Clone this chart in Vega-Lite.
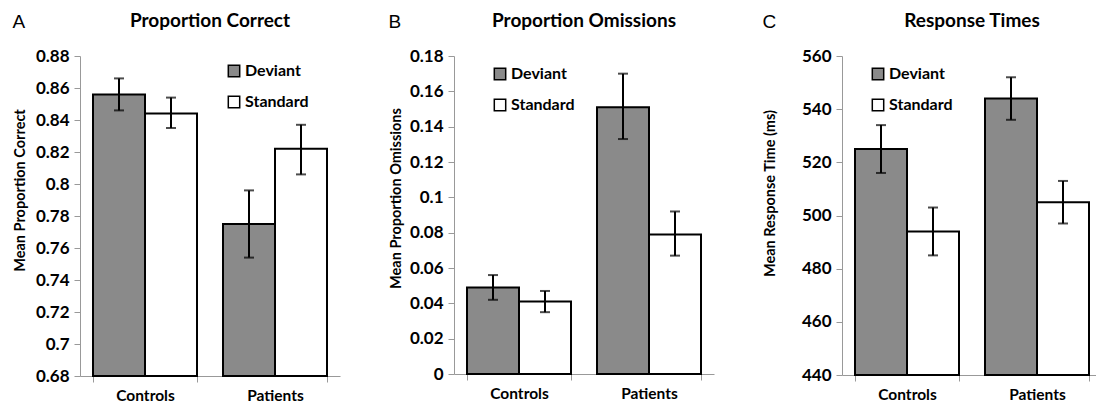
{
  "$schema": "https://vega.github.io/schema/vega-lite/v6.json",
  "background": "white",
  "padding": {"left": 12, "top": 12, "right": 0, "bottom": 0},
  "config": {
    "font": "Lato",
    "view": {"stroke": null},
    "concat": {"spacing": 48},
    "axis": {"grid": false, "labelColor": "black", "titleColor": "black", "labelFontWeight": "bold", "titleFontWeight": "bold", "labelOverlap": false}
  },
  "datasets": {
    "d": [
      {"panel": "A", "group": "Controls", "condition": "Deviant", "mean": 0.856, "lo": 0.846, "hi": 0.866},
      {"panel": "A", "group": "Controls", "condition": "Standard", "mean": 0.844, "lo": 0.835, "hi": 0.854},
      {"panel": "A", "group": "Patients", "condition": "Deviant", "mean": 0.775, "lo": 0.754, "hi": 0.796},
      {"panel": "A", "group": "Patients", "condition": "Standard", "mean": 0.822, "lo": 0.806, "hi": 0.837},
      {"panel": "B", "group": "Controls", "condition": "Deviant", "mean": 0.049, "lo": 0.042, "hi": 0.056},
      {"panel": "B", "group": "Controls", "condition": "Standard", "mean": 0.041, "lo": 0.035, "hi": 0.047},
      {"panel": "B", "group": "Patients", "condition": "Deviant", "mean": 0.151, "lo": 0.133, "hi": 0.170},
      {"panel": "B", "group": "Patients", "condition": "Standard", "mean": 0.079, "lo": 0.067, "hi": 0.092},
      {"panel": "C", "group": "Controls", "condition": "Deviant", "mean": 525, "lo": 516, "hi": 534},
      {"panel": "C", "group": "Controls", "condition": "Standard", "mean": 494, "lo": 485, "hi": 503},
      {"panel": "C", "group": "Patients", "condition": "Deviant", "mean": 544, "lo": 536, "hi": 552},
      {"panel": "C", "group": "Patients", "condition": "Standard", "mean": 505, "lo": 497, "hi": 513}
    ]
  },
  "resolve": {"scale": {"fill": "independent", "y": "independent", "x": "independent"}, "legend": {"fill": "independent"}},
  "hconcat": [
    {
      "title": {"text": "A", "anchor": "start", "frame": "bounds", "font": "Liberation Sans", "fontSize": 19, "fontWeight": "normal", "color": "black", "offset": -20},
      "resolve": {"scale": {"fill": "independent"}, "legend": {"fill": "independent"}},
      "vconcat": [
        {
          "width": 260, "height": 320,
          "title": {"text": "Proportion Correct", "fontSize": 19, "fontWeight": "bold", "color": "black", "anchor": "middle", "frame": "group", "offset": 16},
          "data": {"name": "d"},
          "transform": [{"filter": "datum.panel == 'A'"}],
          "encoding": {
            "x": {"field": "group", "type": "nominal", "sort": ["Controls", "Patients"], "scale": {"paddingInner": 0.2, "paddingOuter": 0.1},
                  "axis": {"title": null, "labelAngle": 0, "tickBand": "extent", "domainColor": "#999999", "tickColor": "#999999", "tickSize": 6, "labelPadding": 6, "labelFontSize": 15.5}},
            "xOffset": {"field": "condition", "type": "nominal", "sort": ["Deviant", "Standard"], "scale": {"paddingInner": 0, "paddingOuter": 0}}
          },
          "layer": [
            {
              "mark": {"type": "bar", "stroke": "black", "strokeWidth": 2},
              "encoding": {
                "y": {"field": "mean", "type": "quantitative", "scale": {"domain": [0.68, 0.88], "zero": false, "nice": false},
                      "axis": {"title": "Mean Proportion Correct", "titleFontSize": 14.5, "titlePadding": 8, "titleY": 134, "labelOverlap": false, "values": [0.68, 0.7, 0.72, 0.74, 0.76, 0.78, 0.8, 0.82, 0.84, 0.86, 0.88], "format": "~g", "labelFontSize": 17, "domainColor": "#999999", "tickColor": "#999999", "tickSize": 6, "labelPadding": 5}},
                "y2": {"datum": 0.68},
                "fill": {"field": "condition", "type": "nominal", "scale": {"domain": ["Deviant", "Standard"], "range": ["#8a8a8a", "white"]},
                         "legend": {"title": null, "orient": "none", "legendX": 146, "legendY": 7, "symbolType": "square", "symbolSize": 130, "symbolStrokeColor": "black", "symbolStrokeWidth": 1.5, "symbolOpacity": 1, "labelFontSize": 16, "labelFontWeight": "bold", "labelColor": "black", "rowPadding": 13, "labelOffset": 3}}
              }
            },
            {"mark": {"type": "rule", "strokeWidth": 2, "color": "black"}, "encoding": {"y": {"field": "lo", "type": "quantitative", "axis": {"title": "Mean Proportion Correct", "titleFontSize": 14.5, "titlePadding": 8, "titleY": 134, "labelOverlap": false, "values": [0.68, 0.7, 0.72, 0.74, 0.76, 0.78, 0.8, 0.82, 0.84, 0.86, 0.88], "format": "~g", "labelFontSize": 17, "domainColor": "#999999", "tickColor": "#999999", "tickSize": 6, "labelPadding": 5}}, "y2": {"field": "hi"}}},
            {"mark": {"type": "tick", "thickness": 2, "size": 10, "color": "black"}, "encoding": {"y": {"field": "lo", "type": "quantitative", "axis": {"title": "Mean Proportion Correct", "titleFontSize": 14.5, "titlePadding": 8, "titleY": 134, "labelOverlap": false, "values": [0.68, 0.7, 0.72, 0.74, 0.76, 0.78, 0.8, 0.82, 0.84, 0.86, 0.88], "format": "~g", "labelFontSize": 17, "domainColor": "#999999", "tickColor": "#999999", "tickSize": 6, "labelPadding": 5}}}},
            {"mark": {"type": "tick", "thickness": 2, "size": 10, "color": "black"}, "encoding": {"y": {"field": "hi", "type": "quantitative", "axis": {"title": "Mean Proportion Correct", "titleFontSize": 14.5, "titlePadding": 8, "titleY": 134, "labelOverlap": false, "values": [0.68, 0.7, 0.72, 0.74, 0.76, 0.78, 0.8, 0.82, 0.84, 0.86, 0.88], "format": "~g", "labelFontSize": 17, "domainColor": "#999999", "tickColor": "#999999", "tickSize": 6, "labelPadding": 5}}}}
          ]
        }
      ]
    },
    {
      "title": {"text": "B", "anchor": "start", "frame": "bounds", "font": "Liberation Sans", "fontSize": 19, "fontWeight": "normal", "color": "black", "offset": -20},
      "resolve": {"scale": {"fill": "independent"}, "legend": {"fill": "independent"}},
      "vconcat": [
        {
          "width": 260, "height": 318,
          "title": {"text": "Proportion Omissions", "fontSize": 19, "fontWeight": "bold", "color": "black", "anchor": "middle", "frame": "group", "offset": 16},
          "data": {"name": "d"},
          "transform": [{"filter": "datum.panel == 'B'"}],
          "encoding": {
            "x": {"field": "group", "type": "nominal", "sort": ["Controls", "Patients"], "scale": {"paddingInner": 0.2, "paddingOuter": 0.1},
                  "axis": {"title": null, "labelAngle": 0, "tickBand": "extent", "domainColor": "#999999", "tickColor": "#999999", "tickSize": 6, "labelPadding": 6, "labelFontSize": 15.5}},
            "xOffset": {"field": "condition", "type": "nominal", "sort": ["Deviant", "Standard"], "scale": {"paddingInner": 0, "paddingOuter": 0}}
          },
          "layer": [
            {
              "mark": {"type": "bar", "stroke": "black", "strokeWidth": 2},
              "encoding": {
                "y": {"field": "mean", "type": "quantitative", "scale": {"domain": [0, 0.18], "nice": false},
                      "axis": {"title": "Mean Proportion Omissions", "titleFontSize": 14.5, "titlePadding": 6, "titleY": 142, "labelOverlap": false, "values": [0, 0.02, 0.04, 0.06, 0.08, 0.1, 0.12, 0.14, 0.16, 0.18], "format": "~g", "labelFontSize": 17, "domainColor": "#999999", "tickColor": "#999999", "tickSize": 6, "labelPadding": 5}},
                "y2": {"datum": 0},
                "fill": {"field": "condition", "type": "nominal", "scale": {"domain": ["Deviant", "Standard"], "range": ["#8a8a8a", "white"]},
                         "legend": {"title": null, "orient": "none", "legendX": 38, "legendY": 10, "symbolType": "square", "symbolSize": 130, "symbolStrokeColor": "black", "symbolStrokeWidth": 1.5, "symbolOpacity": 1, "labelFontSize": 16, "labelFontWeight": "bold", "labelColor": "black", "rowPadding": 13, "labelOffset": 3}}
              }
            },
            {"mark": {"type": "rule", "strokeWidth": 2, "color": "black"}, "encoding": {"y": {"field": "lo", "type": "quantitative", "axis": {"title": "Mean Proportion Omissions", "titleFontSize": 14.5, "titlePadding": 6, "titleY": 142, "labelOverlap": false, "values": [0, 0.02, 0.04, 0.06, 0.08, 0.1, 0.12, 0.14, 0.16, 0.18], "format": "~g", "labelFontSize": 17, "domainColor": "#999999", "tickColor": "#999999", "tickSize": 6, "labelPadding": 5}}, "y2": {"field": "hi"}}},
            {"mark": {"type": "tick", "thickness": 2, "size": 10, "color": "black"}, "encoding": {"y": {"field": "lo", "type": "quantitative", "axis": {"title": "Mean Proportion Omissions", "titleFontSize": 14.5, "titlePadding": 6, "titleY": 142, "labelOverlap": false, "values": [0, 0.02, 0.04, 0.06, 0.08, 0.1, 0.12, 0.14, 0.16, 0.18], "format": "~g", "labelFontSize": 17, "domainColor": "#999999", "tickColor": "#999999", "tickSize": 6, "labelPadding": 5}}}},
            {"mark": {"type": "tick", "thickness": 2, "size": 10, "color": "black"}, "encoding": {"y": {"field": "hi", "type": "quantitative", "axis": {"title": "Mean Proportion Omissions", "titleFontSize": 14.5, "titlePadding": 6, "titleY": 142, "labelOverlap": false, "values": [0, 0.02, 0.04, 0.06, 0.08, 0.1, 0.12, 0.14, 0.16, 0.18], "format": "~g", "labelFontSize": 17, "domainColor": "#999999", "tickColor": "#999999", "tickSize": 6, "labelPadding": 5}}}}
          ]
        }
      ]
    },
    {
      "title": {"text": "C", "anchor": "start", "frame": "bounds", "font": "Liberation Sans", "fontSize": 19, "fontWeight": "normal", "color": "black", "offset": -20},
      "resolve": {"scale": {"fill": "independent"}, "legend": {"fill": "independent"}},
      "vconcat": [
        {
          "width": 260, "height": 319,
          "title": {"text": "Response Times", "fontSize": 19, "fontWeight": "bold", "color": "black", "anchor": "middle", "frame": "group", "offset": 16},
          "data": {"name": "d"},
          "transform": [{"filter": "datum.panel == 'C'"}],
          "encoding": {
            "x": {"field": "group", "type": "nominal", "sort": ["Controls", "Patients"], "scale": {"paddingInner": 0.2, "paddingOuter": 0.1},
                  "axis": {"title": null, "labelAngle": 0, "tickBand": "extent", "domainColor": "#999999", "tickColor": "#999999", "tickSize": 6, "labelPadding": 6, "labelFontSize": 15.5}},
            "xOffset": {"field": "condition", "type": "nominal", "sort": ["Deviant", "Standard"], "scale": {"paddingInner": 0, "paddingOuter": 0}}
          },
          "layer": [
            {
              "mark": {"type": "bar", "stroke": "black", "strokeWidth": 2},
              "encoding": {
                "y": {"field": "mean", "type": "quantitative", "scale": {"domain": [440, 560], "zero": false, "nice": false},
                      "axis": {"title": "Mean Response Time (ms)", "titleFontSize": 14.5, "titlePadding": 24, "titleY": 137, "labelOverlap": false, "values": [440, 460, 480, 500, 520, 540, 560], "labelFontSize": 17, "domainColor": "#999999", "tickColor": "#999999", "tickSize": 6, "labelPadding": 5}},
                "y2": {"datum": 440},
                "fill": {"field": "condition", "type": "nominal", "scale": {"domain": ["Deviant", "Standard"], "range": ["#8a8a8a", "white"]},
                         "legend": {"title": null, "orient": "none", "legendX": 28, "legendY": 10, "symbolType": "square", "symbolSize": 130, "symbolStrokeColor": "black", "symbolStrokeWidth": 1.5, "symbolOpacity": 1, "labelFontSize": 16, "labelFontWeight": "bold", "labelColor": "black", "rowPadding": 13, "labelOffset": 3}}
              }
            },
            {"mark": {"type": "rule", "strokeWidth": 2, "color": "black"}, "encoding": {"y": {"field": "lo", "type": "quantitative", "axis": {"title": "Mean Response Time (ms)", "titleFontSize": 14.5, "titlePadding": 24, "titleY": 137, "labelOverlap": false, "values": [440, 460, 480, 500, 520, 540, 560], "labelFontSize": 17, "domainColor": "#999999", "tickColor": "#999999", "tickSize": 6, "labelPadding": 5}}, "y2": {"field": "hi"}}},
            {"mark": {"type": "tick", "thickness": 2, "size": 10, "color": "black"}, "encoding": {"y": {"field": "lo", "type": "quantitative", "axis": {"title": "Mean Response Time (ms)", "titleFontSize": 14.5, "titlePadding": 24, "titleY": 137, "labelOverlap": false, "values": [440, 460, 480, 500, 520, 540, 560], "labelFontSize": 17, "domainColor": "#999999", "tickColor": "#999999", "tickSize": 6, "labelPadding": 5}}}},
            {"mark": {"type": "tick", "thickness": 2, "size": 10, "color": "black"}, "encoding": {"y": {"field": "hi", "type": "quantitative", "axis": {"title": "Mean Response Time (ms)", "titleFontSize": 14.5, "titlePadding": 24, "titleY": 137, "labelOverlap": false, "values": [440, 460, 480, 500, 520, 540, 560], "labelFontSize": 17, "domainColor": "#999999", "tickColor": "#999999", "tickSize": 6, "labelPadding": 5}}}}
          ]
        }
      ]
    }
  ]
}
